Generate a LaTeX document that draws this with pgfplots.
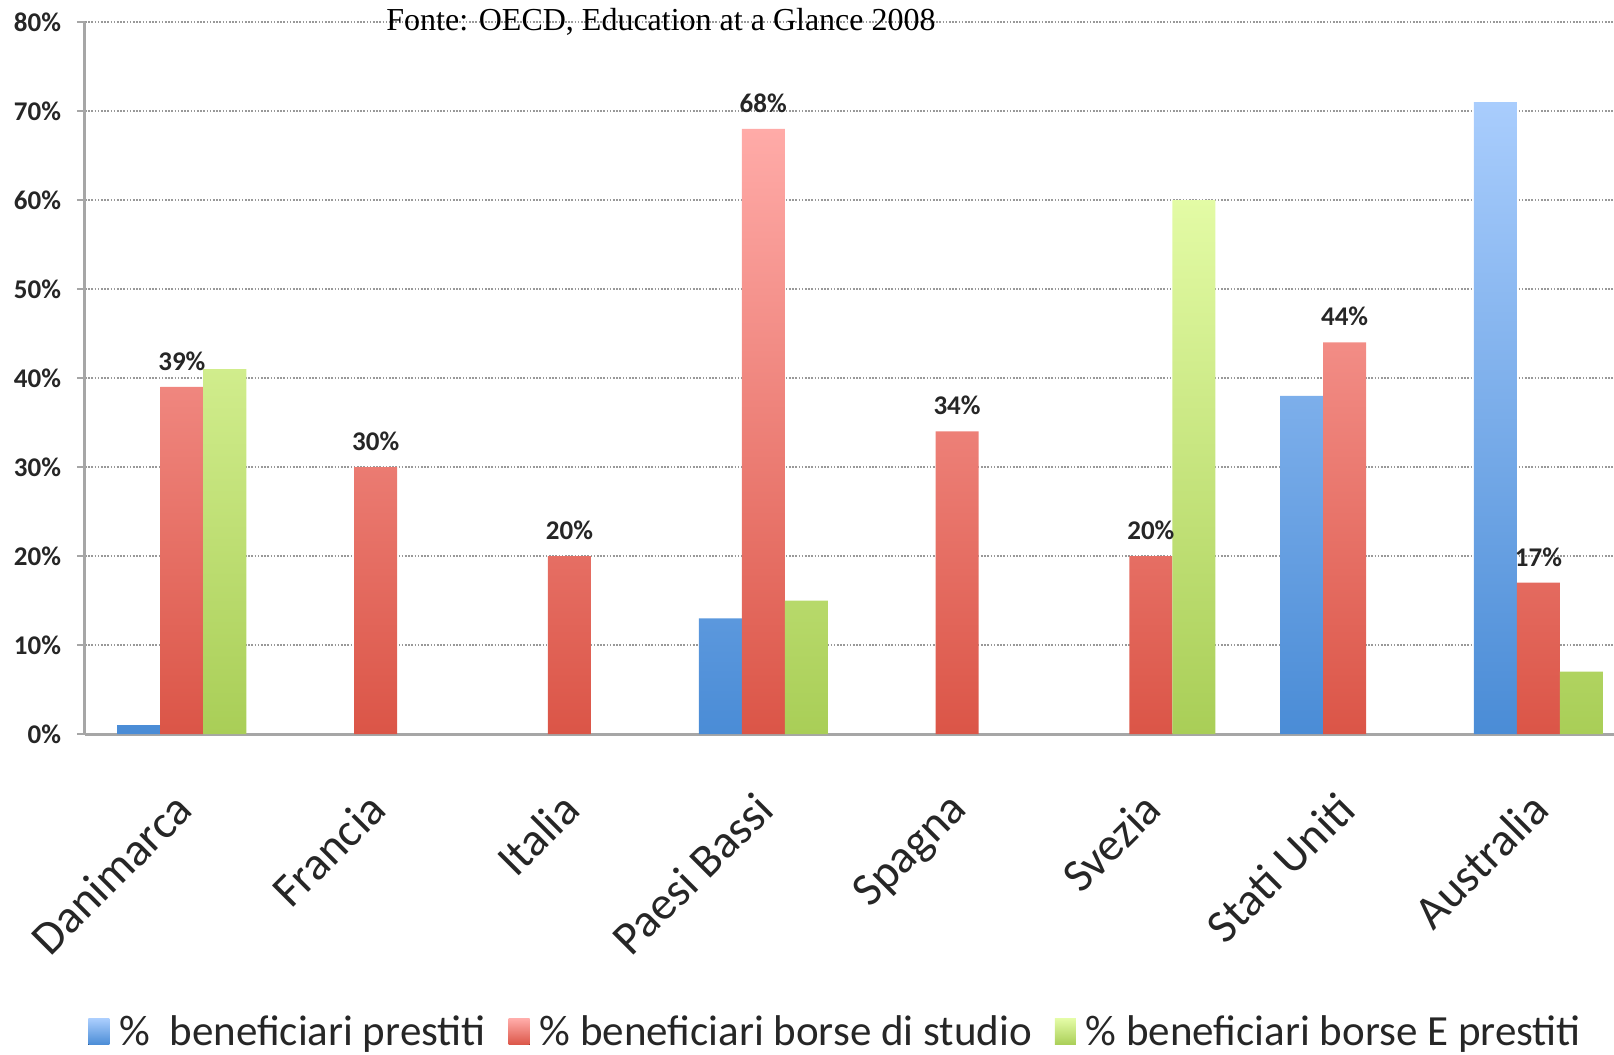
\documentclass[border=0pt]{standalone}
\usepackage{fontspec}
\setmainfont{Carlito}
\newfontfamily\timesfont{Liberation Serif}
\usepackage{pgfplots}
\pgfplotsset{compat=1.18}
\definecolor{bluetop}{HTML}{A9CDFD}
\definecolor{bluebot}{HTML}{4A8CD6}
\definecolor{redtop}{HTML}{FFABA8}
\definecolor{redbot}{HTML}{DB5547}
\definecolor{greentop}{HTML}{E3FBA5}
\definecolor{greenbot}{HTML}{A9CE57}
\definecolor{axisgray}{HTML}{A6A6A6}
\definecolor{txt}{HTML}{262626}
\begin{document}
\begin{tikzpicture}
\begin{axis}[
  at={(0,0)}, anchor=south west,
  scale only axis, width=764.5pt, height=356pt,
  xmin=-0.5, xmax=7.39, ymin=0, ymax=80,
  ybar=0pt, bar width=21.5pt,
  axis x line*=bottom, axis y line*=left,
  axis line style={-, draw=axisgray, line width=1.5pt},
  /pgf/number format/assume math mode=true,
  xtick={0,...,7},
  xticklabels={Danimarca,Francia,Italia,Paesi Bassi,Spagna,Svezia,Stati Uniti,Australia},
  x tick style={draw=none},
  xticklabel style={font=\fontsize{23.5}{23.5}\selectfont, text=txt, inner sep=0pt, xshift=-5pt, yshift=-23.5pt, rotate=45, anchor=north east},
  extra x ticks={-0.5,0.5,...,6.5},
  extra x tick labels={},
  extra x tick style={grid=none, tick align=outside, major tick length=7.7pt, tick style={draw=axisgray, line width=1.2pt}},
  ytick={0,10,...,80},
  yticklabel={\pgfmathprintnumber{\tick}\%},
  yticklabel style={font=\bfseries\fontsize{13.5}{13.5}\selectfont, text=txt, xshift=-4.5pt},
  y tick style={draw=axisgray, line width=1.2pt},
  tick align=outside, major tick length=4pt,
  ymajorgrids,
  major grid style={draw=black!40, line width=1.3pt, dash pattern=on 0.8pt off 0.8pt},
  legend style={at={(0.4915,-0.4185)}, anchor=center, legend columns=3, draw=none, fill=none,
    font=\fontsize{21.5}{21.5}\selectfont, text=txt,
    /tikz/every odd column/.append style={column sep=3pt},
    /tikz/every even column/.append style={column sep=9.5pt}},
  legend image code/.code={\fill[#1, draw=none] (0pt,-6.5pt) rectangle (10.5pt,6.5pt);},
  clip=false,
]
\addplot[draw=none, top color=bluetop, bottom color=bluebot] coordinates {(0,1) (3,13) (6,38) (7,71)};
\addplot[draw=none, top color=redtop, bottom color=redbot,
  nodes near coords={\pgfmathprintnumber{\pgfplotspointmeta}\%},
  nodes near coords style={font=\bfseries\fontsize{13.5}{13.5}\selectfont, text=txt, anchor=south, inner sep=0pt, yshift=8pt}]
  coordinates {(0,39) (1,30) (2,20) (3,68) (4,34) (5,20) (6,44) (7,17)};
\addplot[draw=none, top color=greentop, bottom color=greenbot] coordinates {(0,41) (3,15) (5,60) (7,7)};
\legend{\%\ \ beneficiari prestiti, \% beneficiari borse di studio, \% beneficiari borse E prestiti}
\end{axis}
\node[font=\timesfont\fontsize{16}{16}\selectfont, anchor=base, inner sep=0pt] at (288pt,351.5pt) {Fonte: OECD, Education at a Glance 2008};
\pgfresetboundingbox
\path[use as bounding box] (-42.5pt,-160.5pt) rectangle (764.5pt,367pt);
\end{tikzpicture}
\end{document}
